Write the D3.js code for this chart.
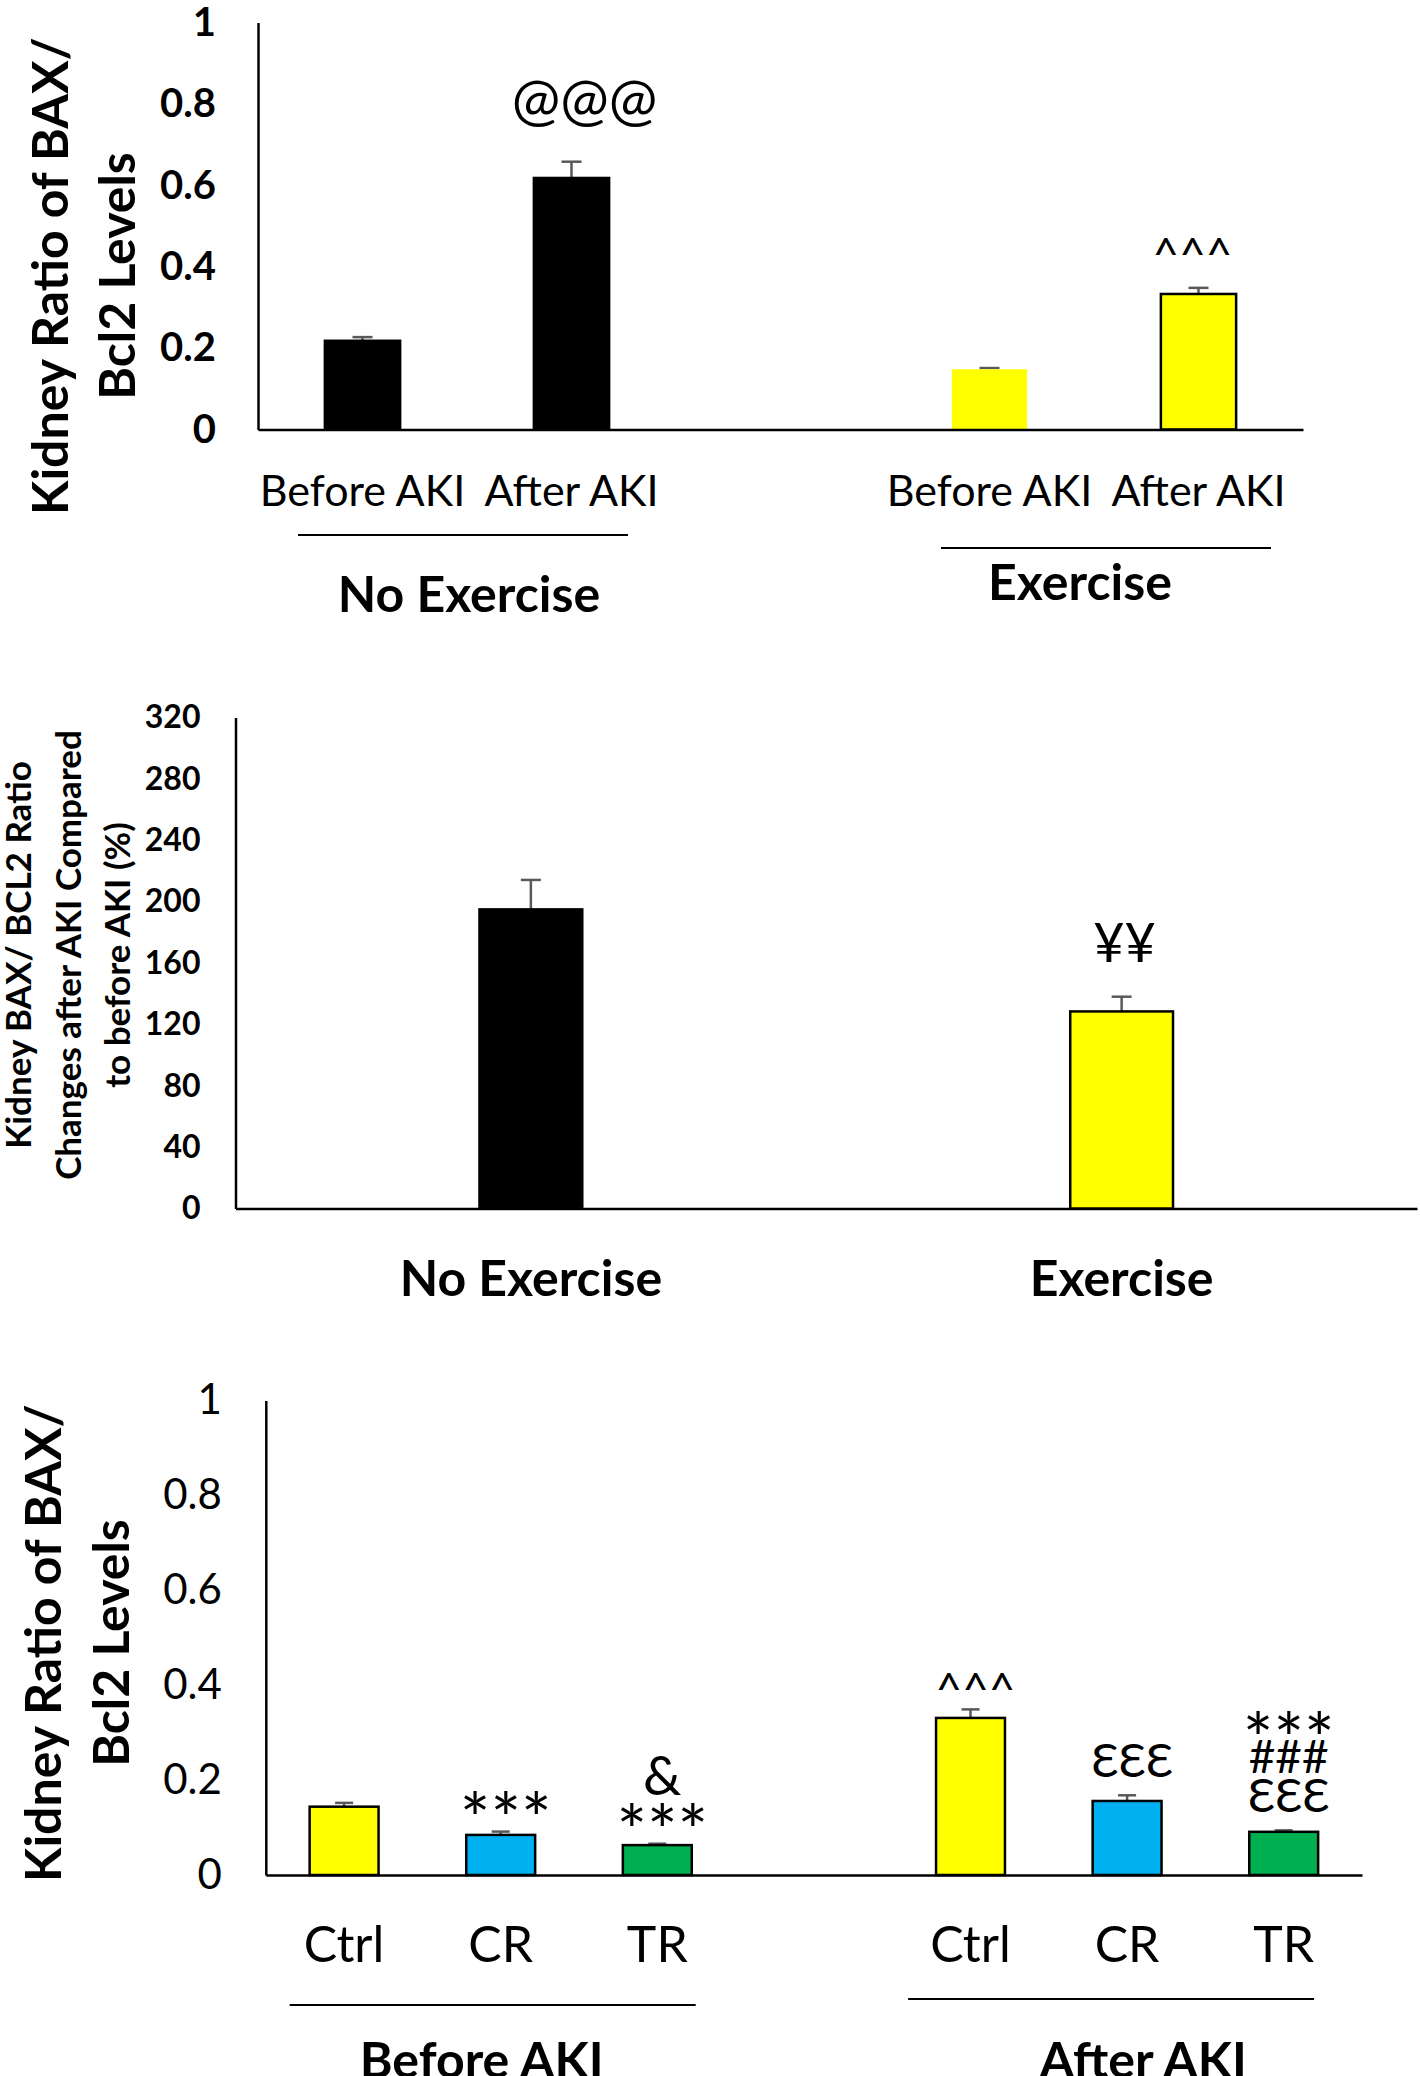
<!DOCTYPE html>
<html><head><meta charset="utf-8">
<script src="https://cdn.jsdelivr.net/npm/d3@7"></script>
<style>
body{margin:0;background:#fff}
svg{display:block}
text{font-family:Lato,'Noto Sans',sans-serif;fill:#000}
</style>
</head><body>
<svg id="c" width="1420" height="2076"></svg>
<script>
// ---------- Panel A: BAX/Bcl2 ratio, exercise vs no exercise ----------
const aGroups = ["No Exercise", "Exercise"];
const aConditions = ["Before AKI", "After AKI"];
const aValues = [[0.218, 0.618], [0.148, 0.333]];
const aErrors = [[0.009, 0.040], [0.003, 0.015]];
const aMarks = [[[], ["@@@"]], [[], ["^^^"]]];
const aTicks = [0, 0.2, 0.4, 0.6, 0.8, 1];
const aTitle = ["Kidney Ratio of BAX/", "Bcl2 Levels"];

// ---------- Panel B: % change after AKI ----------
const bGroups = ["No Exercise", "Exercise"];
const bValues = [195, 128.5];
const bErrors = [19.2, 9.6];
const bMarks = [[], ["¥¥"]];
const bTicks = [0, 40, 80, 120, 160, 200, 240, 280, 320];
const bTitle = ["Kidney BAX/ BCL2 Ratio", "Changes after AKI Compared", "to before AKI (%)"];

// ---------- Panel C: training types ----------
const cGroups = ["Before AKI", "After AKI"];
const cConditions = ["Ctrl", "CR", "TR"];
const cValues = [[0.144, 0.0845, 0.063], [0.331, 0.156, 0.091]];
const cErrors = [[0.008, 0.007, 0.003], [0.018, 0.012, 0.003]];
const cMarks = [[[], ["***"], ["&", "***"]], [["^^^"], ["ƐƐƐ"], ["***", "###", "ƐƐƐ"]]];
const cTicks = [0, 0.2, 0.4, 0.6, 0.8, 1];
const cTitle = ["Kidney Ratio of BAX/", "Bcl2 Levels"];

const svg = d3.select("#c");
const ERR = "#595959";

// glyph styling for significance marks: [font, size, inkBottom(em), inkTop(em)]
const markStyle = {
  "@": ["'Noto Sans'", 58, -0.17, 0.72],
  "^": ["'Noto Sans'", 46, 0.32, 0.71],
  "*": ["'DejaVu Sans'", 72, 0.43, 0.77],
  "¥": ["'Noto Sans'", 54, 0, 0.71],
  "&": ["'Noto Sans'", 54, 0, 0.73],
  "Ɛ": ["'Noto Sans'", 46, 0, 0.73],
  "#": ["'Noto Sans'", 46, 0, 0.71]
};

function yAxis(g, y, ticks, x0, pad, size, weight) {
  const ax = g.append("g").attr("transform", `translate(${x0},0)`)
    .call(d3.axisLeft(y).tickValues(ticks).tickSize(0).tickSizeOuter(0).tickPadding(pad).tickFormat(d3.format("")));
  ax.select(".domain").attr("stroke", "#000").attr("stroke-width", 2.5);
  ax.selectAll("text").attr("font-size", size).attr("font-weight", weight)
    .attr("font-family", "Lato, 'Noto Sans', sans-serif").attr("fill", "#000");
  return ax;
}
function xBase(g, x, y0) {
  const ax = g.append("g").attr("transform", `translate(0,${y0})`)
    .call(d3.axisBottom(x).tickSize(0).tickSizeOuter(0).tickFormat(""));
  ax.select(".domain").attr("stroke", "#000").attr("stroke-width", 2.5);
}
function title(g, lines, xs, cy, size) {
  lines.forEach((t, k) => {
    g.append("text").attr("transform", `translate(${xs[k]},${cy}) rotate(-90)`)
      .attr("text-anchor", "middle").attr("font-size", size).attr("font-weight", "bold").text(t);
  });
}
function errBar(g, cx, yTop, yErr, cap) {
  g.append("line").attr("x1", cx).attr("x2", cx).attr("y1", yTop).attr("y2", yErr)
    .attr("stroke", ERR).attr("stroke-width", 2.5);
  g.append("line").attr("x1", cx - cap / 2).attr("x2", cx + cap / 2).attr("y1", yErr).attr("y2", yErr)
    .attr("stroke", ERR).attr("stroke-width", 2.5);
}
function marks(g, lines, cx, yErr, gap, inner) {
  // lines listed top to bottom; stack them upward from just above the error bar
  let cursor = yErr - gap;
  lines.slice().reverse().forEach(t => {
    const [font, fs, bot, top] = markStyle[t[0]];
    const base = cursor + bot * fs;
    g.append("text").attr("x", cx).attr("y", base)
      .attr("text-anchor", "middle").attr("font-size", fs)
      .attr("font-family", font).text(t);
    cursor = base - top * fs - inner;
  });
}

// ===== Panel A =====
{
  const g = svg.append("g");
  const nSlots = aGroups.length * (aConditions.length + 1) - 1;
  const x = d3.scaleBand().domain(d3.range(nSlots)).range([258, 1303]).padding(0);
  const y = d3.scaleLinear().domain([0, 1]).range([429.5, 22.5]);
  const slot = (gi, ci) => gi * (aConditions.length + 1) + ci;
  const bw = x.bandwidth() * 0.36;
  aGroups.forEach((grp, gi) => {
    aConditions.forEach((cond, ci) => {
      const cx = x(slot(gi, ci)) + x.bandwidth() / 2;
      const v = aValues[gi][ci], e = aErrors[gi][ci];
      errBar(g, cx, y(v), y(v + e), 20);
      g.append("rect").attr("x", cx - bw / 2).attr("y", y(v)).attr("width", bw).attr("height", y(0) - y(v))
        .attr("fill", gi === 0 ? "#000" : "#FFFF00")
        .attr("stroke", (gi === 1 && ci === 0) ? "none" : "#000").attr("stroke-width", 2.5);
      g.append("text").attr("x", cx).attr("y", 506).attr("text-anchor", "middle")
        .attr("font-size", 43).text(cond);
      marks(g, aMarks[gi][ci], cx + (gi === 0 ? 13 : -6), y(v + e), 32, 6);
    });
    const c0 = x(slot(gi, 0)), c1 = x(slot(gi, aConditions.length - 1)) + x.bandwidth();
    const mid = (c0 + c1) / 2 + (gi === 0 ? -4 : 12);
    const uy = gi === 0 ? 535 : 548;
    g.append("line").attr("x1", mid - 165).attr("x2", mid + 165).attr("y1", uy).attr("y2", uy)
      .attr("stroke", "#000").attr("stroke-width", 2);
    g.append("text").attr("x", mid + (gi === 0 ? 6 : -26)).attr("y", gi === 0 ? 612 : 600)
      .attr("text-anchor", "middle").attr("font-size", 50).attr("font-weight", "bold").text(grp);
  });
  xBase(g, x, y(0));
  yAxis(g, y, aTicks, 258, 42, 40, "bold");
  title(g, aTitle, [68, 135], 276, 50);
}

// ===== Panel B =====
{
  const g = svg.append("g");
  const x = d3.scaleBand().domain(bGroups).range([235.5, 1417]).padding(0);
  const y = d3.scaleLinear().domain([0, 320]).range([1208.6, 717.6]);
  const bw = x.bandwidth() * 0.174;
  bGroups.forEach((grp, gi) => {
    const cx = x(grp) + x.bandwidth() / 2;
    const v = bValues[gi], e = bErrors[gi];
    errBar(g, cx, y(v), y(v + e), 20);
    g.append("rect").attr("x", cx - bw / 2).attr("y", y(v)).attr("width", bw).attr("height", y(0) - y(v))
      .attr("fill", gi === 0 ? "#000" : "#FFFF00").attr("stroke", "#000").attr("stroke-width", 2.5);
    marks(g, bMarks[gi], cx + 3, y(v + e), 35, 6);
    g.append("text").attr("x", cx).attr("y", 1296).attr("text-anchor", "middle")
      .attr("font-size", 50).attr("font-weight", "bold").text(grp);
  });
  xBase(g, x, y(0));
  yAxis(g, y, bTicks, 235.5, 35, 32, "bold");
  title(g, bTitle, [31, 81, 130], 955, 35);
}

// ===== Panel C =====
{
  const g = svg.append("g");
  const nSlots = cGroups.length * (cConditions.length + 1) - 1;
  const x = d3.scaleBand().domain(d3.range(nSlots)).range([265.8, 1362]).padding(0);
  const y = d3.scaleLinear().domain([0, 1]).range([1875, 1400.5]);
  const slot = (gi, ci) => gi * (cConditions.length + 1) + ci;
  const bw = x.bandwidth() * 0.44;
  const colors = ["#FFFF00", "#00B0F0", "#00B050"];
  cGroups.forEach((grp, gi) => {
    cConditions.forEach((cond, ci) => {
      const cx = x(slot(gi, ci)) + x.bandwidth() / 2;
      const v = cValues[gi][ci], e = cErrors[gi][ci];
      errBar(g, cx, y(v), y(v + e), 18);
      g.append("rect").attr("x", cx - bw / 2).attr("y", y(v)).attr("width", bw).attr("height", y(0) - y(v))
        .attr("fill", colors[ci]).attr("stroke", "#000").attr("stroke-width", 2.5);
      g.append("text").attr("x", cx).attr("y", 1962).attr("text-anchor", "middle")
        .attr("font-size", 50).text(cond);
      marks(g, cMarks[gi][ci], cx + 5, y(v + e), 18, 6);
    });
    const c0 = x(slot(gi, 0)), c1 = x(slot(gi, cConditions.length - 1)) + x.bandwidth();
    const mid = (c0 + c1) / 2 + (gi === 0 ? -8 : -16);
    const uy = gi === 0 ? 2005 : 1999;
    g.append("line").attr("x1", mid - 203).attr("x2", mid + 203).attr("y1", uy).attr("y2", uy)
      .attr("stroke", "#000").attr("stroke-width", 2);
    g.append("text").attr("x", mid + (gi === 0 ? -11 : 32)).attr("y", 2078)
      .attr("text-anchor", "middle").attr("font-size", 50).attr("font-weight", "bold").text(grp);
  });
  xBase(g, x, y(0));
  yAxis(g, y, cTicks, 265.8, 44, 42, "normal");
  title(g, cTitle, [61, 129], 1643, 50);
}
</script>
</body></html>
